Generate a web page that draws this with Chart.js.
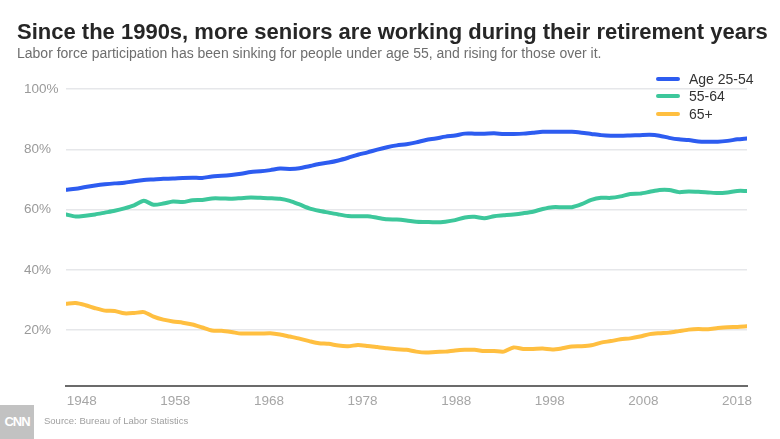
<!DOCTYPE html>
<html>
<head>
<meta charset="utf-8">
<script src="https://cdn.jsdelivr.net/npm/chart.js@4/dist/chart.umd.min.js"></script>
<style>
  html, body { margin: 0; padding: 0; background: #fff; }
  body { width: 780px; height: 439px; position: relative; overflow: hidden; font-family: "Liberation Sans", Arial, sans-serif; }
  #chart-wrap { position: absolute; left: 0; top: 0; width: 780px; height: 439px; }
  .title { position: absolute; left: 17px; top: 21px; font-size: 22px; line-height: 22px; font-weight: bold; color: #262626; white-space: nowrap; }
  .subtitle { position: absolute; left: 17px; top: 46px; font-size: 14px; line-height: 14px; color: #6e6e6e; white-space: nowrap; }
  .legend { position: absolute; left: 656px; top: 70px; }
  .legend-item { display: flex; align-items: center; height: 17.6px; font-size: 14px; color: #333; }
  .legend-swatch { width: 24px; height: 4px; border-radius: 2px; margin-right: 9px; }
  .source { position: absolute; left: 44px; top: 415px; font-size: 9.5px; color: #a0a0a0; white-space: nowrap; }
  .logo { position: absolute; left: 0; top: 405px; width: 34px; height: 34px; background: #c2c2c2; color: #fff; font-weight: bold; font-size: 13px; line-height: 34px; text-align: center; letter-spacing: -1px; }
</style>
</head>
<body>
<div id="chart-wrap"><canvas id="laborChart" width="780" height="439"></canvas></div>
<div class="title">Since the 1990s, more seniors are working during their retirement years</div>
<div class="subtitle">Labor force participation has been sinking for people under age 55, and rising for those over it.</div>
<div class="legend" id="legend"></div>
<div class="logo">CNN</div>
<div class="source">Source: Bureau of Labor Statistics</div>

<script>
// ---------- data ----------
const years = [];
for (let y = 1948; y <= 2018; y++) years.push(y);

const age2554 = [
  66.6, 66.9, 67.5, 68.0, 68.4, 68.7, 68.9, 69.4, 69.8, 70.0,
  70.2, 70.3, 70.5, 70.6, 70.5, 71.0, 71.2, 71.5, 71.9, 72.5,
  72.7, 73.1, 73.6, 73.5, 73.7, 74.4, 75.1, 75.6, 76.3, 77.2,
  78.2, 79.0, 79.9, 80.7, 81.3, 81.7, 82.3, 83.1, 83.6, 84.2,
  84.6, 85.2, 85.2, 85.2, 85.3, 85.1, 85.1, 85.2, 85.5, 85.8,
  85.8, 85.8, 85.8, 85.5, 85.1, 84.7, 84.5, 84.5, 84.6, 84.7,
  84.8, 84.5, 83.8, 83.3, 83.1, 82.6, 82.5, 82.5, 82.8, 83.3,
  83.6
];

const age5564 = [
  58.4, 57.7, 58.0, 58.4, 59.0, 59.6, 60.4, 61.4, 62.9, 61.6,
  62.0, 62.7, 62.5, 63.1, 63.2, 63.7, 63.7, 63.6, 63.8, 64.0,
  63.9, 63.8, 63.6, 62.9, 61.7, 60.4, 59.6, 59.0, 58.4, 57.9,
  57.8, 57.8, 57.3, 56.8, 56.7, 56.4, 56.0, 55.9, 55.8, 56.0,
  56.5, 57.4, 57.6, 57.1, 57.8, 58.1, 58.4, 58.8, 59.3, 60.2,
  60.8, 60.8, 60.8, 61.8, 63.2, 63.9, 63.9, 64.4, 65.2, 65.3,
  65.9, 66.5, 66.5, 65.8, 66.0, 65.9, 65.7, 65.5, 65.7, 66.2,
  66.2
];

const age65plus = [
  28.8, 29.0, 28.3, 27.3, 26.5, 26.4, 25.6, 25.7, 26.0, 24.5,
  23.5, 22.9, 22.5, 21.9, 20.9, 19.9, 19.8, 19.4, 18.9, 18.9,
  18.9, 19.0, 18.6, 17.9, 17.2, 16.4, 15.7, 15.5, 14.9, 14.7,
  15.1, 14.8, 14.4, 14.0, 13.7, 13.5, 12.9, 12.6, 12.8, 12.9,
  13.3, 13.5, 13.5, 13.1, 13.1, 12.9, 14.3, 13.8, 13.8, 13.9,
  13.6, 14.0, 14.6, 14.7, 15.0, 15.9, 16.4, 17.0, 17.3, 17.9,
  18.7, 19.0, 19.2, 19.7, 20.2, 20.4, 20.3, 20.7, 21.0, 21.1,
  21.3
];

const seriesNames = ["Age 25-54", "55-64", "65+"];
const seriesColors = ["#2d5cf0", "#3dc79b", "#ffbf40"];
const yTicks = [20, 40, 60, 80, 100];
const xTickLabels = [1948, 1958, 1968, 1978, 1988, 1998, 2008, 2018];

// ---------- legend ----------
const legendDiv = document.getElementById("legend");
seriesNames.forEach((name, i) => {
  const item = document.createElement("div");
  item.className = "legend-item";
  item.innerHTML = `<span class="legend-swatch" style="background:${seriesColors[i]}"></span>${name}`;
  legendDiv.appendChild(item);
});

// ---------- chart ----------
const toPoints = vals => years.map((yr, i) => ({ x: yr, y: vals[i] }));

new Chart(document.getElementById("laborChart"), {
  type: "line",
  data: {
    datasets: [age2554, age5564, age65plus].map((vals, i) => ({
      label: seriesNames[i],
      data: toPoints(vals),
      borderColor: seriesColors[i],
      borderWidth: 4,
      borderCapStyle: "round",
      borderJoinStyle: "round",
      pointRadius: 0,
      tension: 0.25,
      xAxisID: "x",
      yAxisID: "y"
    }))
  },
  options: {
    responsive: false,
    animation: false,
    layout: { padding: { left: 24, right: 33, top: 89, bottom: 0 } },
    plugins: { legend: { display: false }, tooltip: { enabled: false } },
    scales: {
      x: {
        type: "linear",
        min: 1948,
        max: 2018,
        display: false
      },
      // year labels sit a little off the data grid in the original
      xLabels: {
        type: "linear",
        position: "bottom",
        min: 1946.32,
        max: 2019.07,
        afterBuildTicks: s => { s.ticks = xTickLabels.map(v => ({ value: v })); },
        afterFit: s => { s.height = 53; },
        grid: { display: false, drawTicks: false },
        border: { display: true, color: "#6b6b6b", width: 2 },
        ticks: {
          padding: 7,
          color: "#a6a6a6",
          font: { family: "Liberation Sans", size: 13.5 },
          callback: v => String(v),
          autoSkip: false,
          maxRotation: 0
        }
      },
      y: {
        min: 1.5,
        max: 100,
        afterBuildTicks: s => { s.ticks = yTicks.map(v => ({ value: v })); },
        afterFit: s => { s.width = 42; },
        border: { display: false },
        grid: { color: "#e6e7ea", lineWidth: 1.5, drawTicks: false },
        ticks: {
          crossAlign: "far",
          color: "#9a9a9a",
          font: { family: "Liberation Sans", size: 13.5 },
          callback: v => v + "%"
        }
      }
    }
  }
});
</script>
</body>
</html>
